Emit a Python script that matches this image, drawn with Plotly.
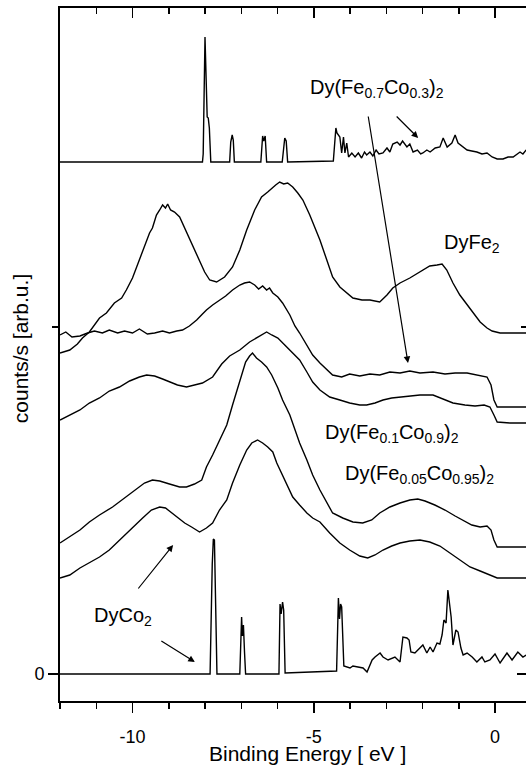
import plotly.graph_objects as go

FONT = "Liberation Sans, Arial, sans-serif"

# ---------------- data (binding energy in eV, intensity in arb. u.) ----------------
# calculated DOS Dy(Fe0.7Co0.3)2 (top)
calc_fe07_x = [-12.0, -8.07, -8.05, -8.00, -7.94, -7.91, -7.88, -7.84,
               -7.32, -7.29, -7.25, -7.22, -7.19,
               -6.46, -6.41, -6.38, -6.34, -6.30,
               -5.87, -5.80, -5.76, -5.72,
               -4.46, -4.39, -4.36, -4.28, -4.23, -4.18, -4.14, -4.09, -4.04, -3.95, -3.86, -3.77,
               -3.68, -3.60, -3.54, -3.45, -3.37, -3.28, -3.20, -3.09, -2.98, -2.90, -2.82, -2.70,
               -2.62, -2.55, -2.43, -2.35, -2.26, -2.14, -2.05, -1.99, -1.88, -1.79, -1.65, -1.52,
               -1.43, -1.32, -1.19, -1.10, -1.02, -0.90, -0.77, -0.64, -0.50, -0.36, -0.22, -0.08,
               0.06, 0.22, 0.36, 0.50, 0.61, 0.69, 0.77, 0.86]
calc_fe07_y = [512, 512, 520, 637, 557, 556, 546, 512,
               512, 532, 539, 534, 512,
               512, 538, 533, 538, 512,
               512, 536, 533, 512,
               513, 546, 541, 537, 521, 537, 521, 531, 517, 521, 517, 521,
               516, 522, 519, 522, 518, 524, 520, 521, 526, 522, 530, 532,
               529, 533, 527, 530, 522, 524, 520, 521, 524, 522, 526, 527,
               536, 527, 531, 539, 531, 528, 524, 523, 522, 520, 521, 517,
               515, 515, 517, 517, 520, 522, 520, 524]

# DyFe2 (experiment)
dyfe2_x = [-12.0, -11.73, -11.52, -11.38, -11.19, -10.91, -10.72, -10.50, -10.30, -10.17, -10.0,
           -9.81, -9.67, -9.53, -9.45, -9.34, -9.25, -9.17, -9.09, -9.03, -8.95, -8.84, -8.70,
           -8.56, -8.43, -8.29, -8.15, -8.01, -7.87, -7.68, -7.46, -7.24, -7.04, -6.85, -6.63,
           -6.44, -6.27, -6.16, -6.05, -5.94, -5.83, -5.72, -5.58, -5.44, -5.30, -5.11, -4.83,
           -4.64, -4.48, -4.28, -4.09, -3.92, -3.67, -3.45, -3.18, -2.98, -2.82, -2.62, -2.35,
           -2.07, -1.80, -1.60, -1.46, -1.33, -1.16, -0.97, -0.77, -0.61, -0.41, -0.22, -0.08,
           0.14, 0.41, 0.86]
dyfe2_y = [321, 324, 330, 336, 342, 356, 361, 371, 376, 384, 396,
           414, 429, 441, 446, 459, 464, 469, 466, 470, 464, 462, 457,
           446, 434, 424, 412, 402, 394, 392, 397, 407, 424, 444, 464,
           477, 482, 486, 489, 492, 490, 491, 487, 481, 474, 459, 434,
           414, 397, 387, 381, 376, 374, 374, 372, 379, 386, 391, 396,
           402, 408, 409, 410, 404, 391, 379, 369, 361, 352, 346, 343,
           341, 341, 341]

# Dy(Fe0.7Co0.3)2 (experiment)
fe07_x = [-12.0, -11.84, -11.67, -11.45, -11.24, -11.05, -10.83, -10.64, -10.41, -10.22, -10.0,
          -9.81, -9.59, -9.39, -9.17, -8.98, -8.78, -8.62, -8.43, -8.23, -8.07, -7.96, -7.79,
          -7.60, -7.43, -7.24, -7.04, -6.91, -6.77, -6.63, -6.52, -6.41, -6.30, -6.22, -6.13,
          -5.99, -5.86, -5.66, -5.52, -5.39, -5.19, -5.03, -4.83, -4.64, -4.48, -4.23, -4.01,
          -3.73, -3.45, -3.18, -2.90, -2.62, -2.35, -2.07, -1.71, -1.38, -1.10, -0.77, -0.47,
          -0.22, -0.11, -0.03, 0.06, 0.41, 0.86]
fe07_y = [339, 342, 337, 338, 341, 343, 341, 344, 341, 343, 341,
          345, 340, 341, 343, 341, 343, 344, 348, 354, 360, 364, 369,
          374, 378, 384, 389, 391, 392, 389, 385, 388, 384, 386, 381,
          377, 371, 359, 348, 341, 329, 319, 311, 304, 299, 297, 300,
          298, 300, 299, 302, 301, 303, 301, 302, 300, 301, 301, 299,
          297, 289, 274, 267, 267, 267]

# Dy(Fe0.1Co0.9)2 (experiment)
fe01_x = [-12.0, -11.73, -11.45, -11.19, -10.91, -10.64, -10.36, -10.08, -9.81, -9.61, -9.39,
          -9.17, -8.98, -8.76, -8.51, -8.29, -8.07, -7.79, -7.54, -7.32, -7.04, -6.77, -6.55,
          -6.41, -6.30, -6.16, -5.99, -5.80, -5.61, -5.39, -5.19, -5.03, -4.83, -4.56, -4.28,
          -4.01, -3.73, -3.54, -3.31, -3.09, -2.85, -2.62, -2.35, -2.07, -1.71, -1.44, -1.16,
          -0.83, -0.55, -0.30, -0.14, -0.03, 0.06, 0.41, 0.86]
fe01_y = [254, 259, 264, 271, 276, 283, 287, 293, 297, 299, 298,
          295, 292, 289, 287, 289, 291, 297, 310, 318, 324, 332, 337,
          340, 342, 339, 336, 329, 322, 314, 302, 292, 284, 277, 274,
          271, 269, 269, 271, 274, 276, 277, 278, 279, 279, 275, 271,
          269, 268, 269, 267, 259, 252, 251, 251]

# Dy(Fe0.05Co0.95)2 (experiment)
fe005_x = [-12.0, -11.73, -11.45, -11.19, -10.91, -10.55, -10.22, -9.94, -9.67, -9.45, -9.25,
           -8.98, -8.70, -8.51, -8.29, -8.09, -7.96, -7.79, -7.60, -7.40, -7.24, -7.04, -6.88,
           -6.77, -6.69, -6.58, -6.44, -6.30, -6.16, -5.99, -5.86, -5.66, -5.52, -5.39, -5.19,
           -5.03, -4.83, -4.64, -4.48, -4.20, -3.92, -3.65, -3.40, -3.18, -2.90, -2.62, -2.35,
           -2.13, -1.93, -1.66, -1.38, -1.10, -0.88, -0.64, -0.41, -0.22, -0.11, -0.03, 0.06,
           0.41, 0.86]
fe005_y = [131, 137, 144, 152, 159, 167, 176, 184, 191, 194, 193,
           190, 187, 187, 190, 194, 207, 219, 234, 249, 269, 294, 312,
           318, 321, 316, 312, 307, 299, 286, 274, 259, 244, 231, 214,
           199, 184, 171, 161, 156, 152, 151, 154, 161, 167, 171, 174,
           175, 173, 169, 164, 158, 154, 149, 147, 148, 144, 134, 127,
           127, 127]

# DyCo2 (experiment)
dyco2_x = [-12.0, -11.73, -11.45, -11.19, -10.91, -10.64, -10.36, -10.0, -9.72, -9.48, -9.25,
           -9.09, -8.92, -8.76, -8.56, -8.37, -8.15, -7.96, -7.79, -7.60, -7.40, -7.24, -7.04,
           -6.85, -6.71, -6.55, -6.41, -6.27, -6.13, -6.02, -5.86, -5.72, -5.58, -5.39, -5.19,
           -5.03, -4.83, -4.56, -4.28, -4.01, -3.73, -3.51, -3.31, -3.09, -2.85, -2.62, -2.35,
           -2.07, -1.80, -1.52, -1.24, -0.97, -0.69, -0.41, -0.19, 0.06, 0.41, 0.86]
dyco2_y = [96, 99, 106, 111, 117, 124, 134, 147, 156, 164, 167,
           166, 161, 156, 151, 147, 142, 146, 151, 164, 174, 191, 209,
           224, 231, 234, 231, 227, 222, 211, 199, 187, 177, 169, 161,
           156, 152, 141, 131, 124, 118, 116, 119, 124, 128, 131, 133,
           134, 132, 128, 121, 114, 107, 103, 100, 96, 96, 96]

# calculated DOS DyCo2 (bottom)
calc_co_x = [-12.0, -7.86, -7.80, -7.77, -7.74, -7.70, -7.67,
             -7.04, -6.99, -6.97, -6.94, -6.91, -6.88,
             -5.96, -5.93, -5.90, -5.86, -5.83, -5.79,
             -4.37, -4.32, -4.29, -4.26, -4.23, -4.19, -4.17,
             -4.00, -3.92, -3.78, -3.64, -3.53, -3.39, -3.31, -3.17, -3.09, -2.95, -2.76, -2.62,
             -2.54, -2.43, -2.37, -2.32, -2.21, -2.07, -1.99, -1.88, -1.79, -1.71, -1.60, -1.52,
             -1.46, -1.41, -1.35, -1.30, -1.21, -1.16, -1.08, -1.02, -0.94, -0.88, -0.77, -0.63,
             -0.50, -0.36, -0.28, -0.14, 0.0, 0.14, 0.33, 0.47, 0.63, 0.77, 0.86]
calc_co_y = [0, 0, 110, 135, 134, 60, 0,
             0, 57, 38, 49, 22, 0,
             0, 70, 60, 72, 64, 1,
             3, 76, 55, 70, 67, 20, 8,
             6, 8, 7, 6, 2, 14, 17, 21, 17, 14, 17, 12,
             37, 36, 34, 22, 21, 26, 29, 21, 27, 22, 31, 30,
             39, 54, 51, 84, 57, 29, 44, 42, 26, 19, 21, 17,
             12, 17, 12, 14, 20, 11, 21, 14, 22, 17, 19]

X_RANGE = [-12.0, 0.855]
Y_RANGE = [-27, 666]

fig = go.Figure()
series = [(calc_fe07_x, calc_fe07_y), (dyfe2_x, dyfe2_y), (fe07_x, fe07_y),
          (fe01_x, fe01_y), (fe005_x, fe005_y), (dyco2_x, dyco2_y),
          (calc_co_x, calc_co_y)]
for xs, ys in series:
    fig.add_trace(go.Scatter(x=xs, y=ys, mode="lines",
                             line=dict(color="black", width=1.4),
                             showlegend=False, hoverinfo="skip"))
# empty trace to anchor mirrored top/right axes
fig.add_trace(go.Scatter(x=[], y=[], xaxis="x2", yaxis="y2", showlegend=False, hoverinfo="skip"))

tickfont = dict(family=FONT, size=18, color="black")
fig.update_layout(
    width=526, height=765,
    margin=dict(l=60, r=0, t=8, b=64),
    plot_bgcolor="white", paper_bgcolor="white",
    showlegend=False,
    font=dict(family=FONT, color="black"),
    xaxis=dict(range=X_RANGE, tickvals=[-10, -5, 0], ticktext=["-10", "-5", "0"],
               ticks="outside", ticklen=10, tickwidth=1.5, tickcolor="black",
               ticklabelstandoff=8,
               showline=True, linewidth=2, linecolor="black",
               showgrid=False, zeroline=False, tickfont=tickfont,
               minor=dict(dtick=1, tick0=0, ticks="outside", ticklen=6,
                          tickwidth=1.5, tickcolor="black", showgrid=False)),
    yaxis=dict(range=Y_RANGE, tickvals=[0], ticktext=["0"],
               ticks="outside", ticklen=10, tickwidth=1.5, tickcolor="black",
               showline=True, linewidth=2, linecolor="black",
               showgrid=False, zeroline=False, tickfont=tickfont,
               minor=dict(tickvals=[347], ticks="outside", ticklen=6,
                          tickwidth=1.5, tickcolor="black", showgrid=False)),
    xaxis2=dict(range=X_RANGE, overlaying="x", side="top", anchor="y",
                tickvals=[-10, -5, 0], showticklabels=False,
                ticks="inside", ticklen=10, tickwidth=1.5, tickcolor="black",
                showline=True, linewidth=2, linecolor="black",
                showgrid=False, zeroline=False,
                minor=dict(dtick=1, tick0=0, ticks="inside", ticklen=6,
                           tickwidth=1.5, tickcolor="black", showgrid=False)),
    yaxis2=dict(range=Y_RANGE, overlaying="y", side="right", anchor="x",
                tickvals=[0], showticklabels=False,
                ticks="inside", ticklen=9, tickwidth=1.5, tickcolor="black",
                showline=False, showgrid=False, zeroline=False,
                minor=dict(tickvals=[347], ticks="inside", ticklen=5,
                           tickwidth=1.5, tickcolor="black", showgrid=False)),
)

lab = dict(family=FONT, size=20, color="black")
annotations = [
    # axis titles
    dict(text="Binding Energy [ eV ]", xref="paper", yref="paper", x=0.532, y=-0.0755,
         xanchor="center", yanchor="middle", showarrow=False, font=dict(family=FONT, size=21, color="black")),
    dict(text="counts/s [arb.u.]", xref="paper", yref="paper", x=-0.086, y=0.509,
         xanchor="center", yanchor="middle", textangle=-90, showarrow=False,
         font=dict(family=FONT, size=21, color="black")),
    # curve labels
    dict(text="Dy(Fe<sub>0.7</sub>Co<sub>0.3</sub>)<sub>2</sub>", x=-3.26, y=586,
         showarrow=False, font=lab),
    dict(text="DyFe<sub>2</sub>", x=-0.64, y=431, showarrow=False, font=lab),
    dict(text="Dy(Fe<sub>0.1</sub>Co<sub>0.9</sub>)<sub>2</sub>", x=-2.85, y=241,
         showarrow=False, font=lab),
    dict(text="Dy(Fe<sub>0.05</sub>Co<sub>0.95</sub>)<sub>2</sub>", x=-2.07, y=200,
         showarrow=False, font=lab),
    dict(text="DyCo<sub>2</sub>", x=-10.25, y=58, showarrow=False, font=lab),
]
arrow_style = dict(text="", showarrow=True, arrowhead=2, arrowsize=1.1, arrowwidth=1.2,
                   arrowcolor="black", axref="pixel", ayref="pixel")
annotations += [
    dict(x=-2.12, y=536, ax=-23, ay=-23, **arrow_style),
    dict(x=-2.40, y=311, ax=-40, ay=-248, **arrow_style),
    dict(x=-8.88, y=129, ax=-36, ay=45, **arrow_style),
    dict(x=-8.28, y=12, ax=-35, ay=-22, **arrow_style),
]
fig.update_layout(annotations=annotations)

# remove the page's default body margin so the 526x765 figure fills the window
fig.write_html("out.html",
               config={"displayModeBar": False, "staticPlot": True},
               post_script="document.body.style.margin='0';document.body.style.overflow='hidden';")
